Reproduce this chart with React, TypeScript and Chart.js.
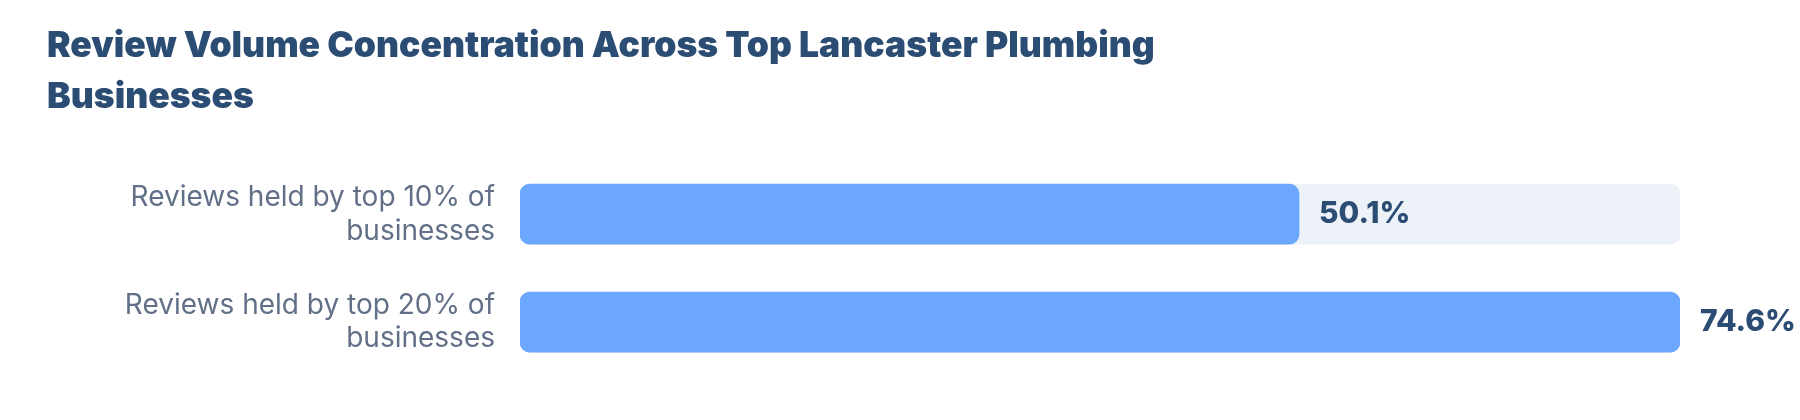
import { useEffect, useRef } from 'react';
import { Chart, registerables } from 'chart.js';

Chart.register(...registerables);

const categories: string[][] = [
  ['Reviews held by top 10% of', 'businesses'],
  ['Reviews held by top 20% of', 'businesses'],
];
const shares: number[] = [50.1, 74.6];
const titleLines: string[] = ['Review Volume Concentration Across Top Lancaster Plumbing', 'Businesses'];

const NAVY = '#2b4c73';
const SLATE = '#617087';
const BAR = '#6ca7fe';
const TRACK = '#edf2f9';

const valueLabels = {
  id: 'valueLabels',
  afterDatasetsDraw(chart: Chart) {
    const { ctx } = chart;
    const meta = chart.getDatasetMeta(0);
    ctx.save();
    ctx.font = '800 30px Inter';
    ctx.fillStyle = NAVY;
    ctx.textAlign = 'left';
    ctx.textBaseline = 'middle';
    meta.data.forEach((bar: any, i: number) => {
      ctx.fillText(`${shares[i].toFixed(1)}%`, bar.x + 20, bar.y);
    });
    ctx.restore();
  },
};

export default function App() {
  const canvasRef = useRef<HTMLCanvasElement | null>(null);
  const chartRef = useRef<Chart | null>(null);

  useEffect(() => {
    if (!canvasRef.current) return;
    if (chartRef.current) chartRef.current.destroy();

    const maxShare = Math.max(...shares);

    chartRef.current = new Chart(canvasRef.current, {
      type: 'bar',
      data: {
        labels: categories,
        datasets: [
          {
            data: shares,
            backgroundColor: BAR,
            borderRadius: 10,
            borderSkipped: false,
            barThickness: 60,
            grouped: false,
          },
          {
            // background track behind each bar
            data: shares.map(() => maxShare),
            backgroundColor: TRACK,
            borderRadius: 10,
            borderSkipped: false,
            barThickness: 60,
            grouped: false,
          },
        ],
      },
      options: {
        indexAxis: 'y',
        animation: false,
        responsive: false,
        maintainAspectRatio: false,
        layout: { padding: { top: 0, left: 47, right: 120, bottom: 44 } },
        scales: {
          x: { display: false, min: 0, max: maxShare },
          y: {
            grid: { display: false, drawTicks: false },
            border: { display: false },
            ticks: {
              color: SLATE,
              padding: 25,
              font: { family: 'Inter', size: 28, lineHeight: 1.21 },
            },
            afterFit(scale: any) {
              scale.width = 520 - 47;
              // keep the label heights from eating into the layout
              scale.paddingTop = 0;
              scale.paddingBottom = 0;
            },
          },
        },
        plugins: {
          legend: { display: false },
          tooltip: { enabled: false },
          title: {
            display: true,
            text: titleLines,
            align: 'start',
            color: NAVY,
            font: { family: 'Inter', size: 35.5, weight: '900', lineHeight: 1.44 },
            padding: { top: 21, bottom: 37 },
          },
        },
      },
      plugins: [valueLabels],
    });

    return () => {
      if (chartRef.current) {
        chartRef.current.destroy();
        chartRef.current = null;
      }
    };
  }, []);

  return (
    <div style={{ position: 'absolute', left: 0, top: 0, width: 1800, height: 420, background: '#fff' }}>
      <canvas ref={canvasRef} width={1800} height={420} style={{ width: 1800, height: 420 }} />
    </div>
  );
}
